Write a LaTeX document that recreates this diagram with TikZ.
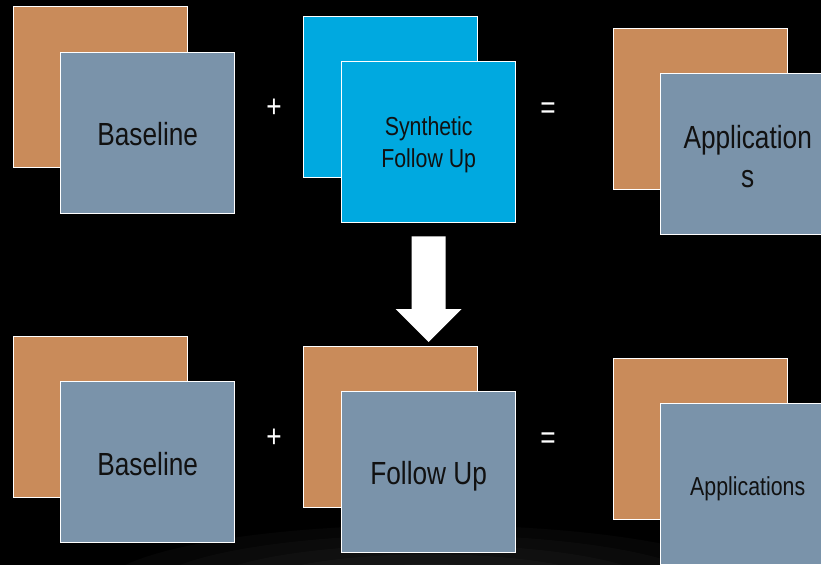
\documentclass[tikz,border=0pt]{standalone}
\usepackage{fontspec}
\setmainfont{Liberation Sans}[FakeStretch=0.82]
\definecolor{bgorange}{HTML}{C98B5A}
\definecolor{bgblue}{HTML}{7A93AA}
\definecolor{bgcyan}{HTML}{00A9E0}
\definecolor{txtdark}{HTML}{111111}
\tikzset{
  sqbox/.style={draw=white, line width=1.4pt, rectangle, anchor=north west,
    minimum width=174pt, minimum height=161pt, inner sep=0pt},
  boxtext/.style={text=txtdark, align=center, inner sep=0pt},
  bigtext/.style={boxtext, font=\fontsize{32}{39}\selectfont},
  smalltext/.style={boxtext, font=\fontsize{26}{32}\selectfont},
  optext/.style={text=white, font=\fontsize{32}{34}\selectfont, inner sep=0pt, anchor=center},
}
\begin{document}
\begin{tikzpicture}[x=1pt,y=-1pt]
\useasboundingbox (0,0) rectangle (821,565);
\clip (0,0) rectangle (821,565);
\fill[black] (0,0) rectangle (821,565);
\foreach \r in {1.0,0.85,0.7,0.55,0.4}{
  \fill[white, opacity=0.025] (430,590) ellipse [x radius=330*\r, y radius=65*\r];
}

% top row
\node[sqbox, fill=bgorange] (tlb) at (13,6) {};
\node[sqbox, fill=bgblue] (tlf) at (60,52) {};
\node[bigtext] (tlt) at ([yshift=-1pt]tlf.center) {Baseline};
\node[optext] (plus1) at (274,108) {+};
\node[sqbox, fill=bgcyan] (tmb) at (303,16) {};
\node[sqbox, fill=bgcyan] (tmf) at (341,61) {};
\node[smalltext] (tmt) at ([yshift=-3pt]tmf.center) {Synthetic\\Follow Up};
\node[optext] (eq1) at (548,111) {=};
\node[sqbox, fill=bgorange] (trb) at (613,28) {};
\node[sqbox, fill=bgblue] (trf) at (660,73) {};
\node[bigtext] (trt) at ([yshift=-2pt]trf.center) {Application\\s};

% bottom row
\node[sqbox, fill=bgorange] (blb) at (13,336) {};
\node[sqbox, fill=bgblue] (blf) at (60,381) {};
\node[bigtext] (blt) at ([yshift=-2pt]blf.center) {Baseline};
\node[optext] (plus2) at (274,438) {+};
\node[sqbox, fill=bgorange] (bmb) at (303,346) {};
\node[sqbox, fill=bgblue] (bmf) at (341,391) {};
\node[bigtext] (bmt) at ([yshift=-4pt]bmf.center) {Follow Up};
\node[optext] (eq2) at (548,441) {=};
\node[sqbox, fill=bgorange] (brb) at (613,358) {};
\node[sqbox, fill=bgblue] (brf) at (660,403) {};
\node[smalltext] (brt) at ([yshift=-5pt]brf.center) {Applications};

% block arrow from top middle to bottom middle
\coordinate (atop) at ([yshift=-13pt]tmf.south);
\coordinate (atip) at ([yshift=4pt]tmf.south |- bmb.north);
\coordinate (aneck) at (atip |- 0,309);
\fill[white] ([xshift=-17pt]atop) -- ([xshift=17pt]atop)
  -- ([xshift=17pt]aneck) -- ([xshift=33pt]aneck)
  -- (atip) -- ([xshift=-33pt]aneck) -- ([xshift=-17pt]aneck) -- cycle;
\end{tikzpicture}
\end{document}
